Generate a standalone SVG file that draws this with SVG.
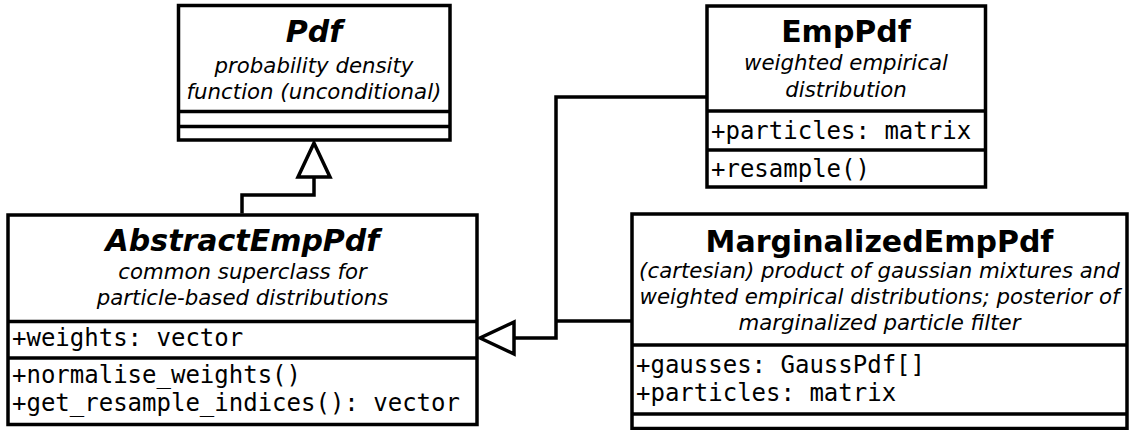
<svg xmlns="http://www.w3.org/2000/svg" width="1131" height="430" viewBox="0 0 1131 430">
<defs>
<marker id="inherit" markerUnits="userSpaceOnUse" markerWidth="40" markerHeight="40" viewBox="0 0 40 40" refX="37" refY="20" orient="auto" overflow="visible">
<path d="M37,20 L3,4 L3,36 Z" fill="#fff" stroke="#000" stroke-width="3.5" stroke-linejoin="miter"/>
</marker>
</defs>
<style>
.box{fill:#fff;stroke:#000;stroke-width:3.5}
.sep{stroke:#000;stroke-width:3.5}
.name{font-family:"DejaVu Sans",sans-serif;font-weight:bold;font-size:30px;text-anchor:middle;fill:#000}
.abs{font-style:italic}
.desc{font-family:"DejaVu Sans",sans-serif;font-style:italic;font-size:21.3px;text-anchor:middle;fill:#000}
.mem{font-family:"DejaVu Sans Mono",monospace;font-size:24px;fill:#000}
.conn{fill:none;stroke:#000;stroke-width:3.5}
</style>
<g id="connectors">
<path class="conn" d="M242,213.5 V195 H314 V143" marker-end="url(#inherit)"/>
<path class="conn" d="M707,97 H556 V338 H480" marker-end="url(#inherit)"/>
<path class="conn" d="M632,321 H556"/>
</g>
<g id="Pdf">
<rect class="box" x="178.5" y="5.5" width="271.5" height="134.5"/>
<line class="sep" x1="178.5" y1="111.5" x2="450" y2="111.5"/>
<line class="sep" x1="178.5" y1="126.5" x2="450" y2="126.5"/>
<text class="name abs" x="314" y="42">Pdf</text>
<text class="desc" x="314" y="73">probability density</text>
<text class="desc" x="314" y="99">function (unconditional)</text>
</g>
<g id="EmpPdf">
<rect class="box" x="707" y="6" width="278.5" height="181"/>
<line class="sep" x1="707" y1="111" x2="985.5" y2="111"/>
<line class="sep" x1="707" y1="150" x2="985.5" y2="150"/>
<text class="name" x="846" y="42">EmpPdf</text>
<text class="desc" x="846" y="70">weighted empirical</text>
<text class="desc" x="846" y="97">distribution</text>
<text class="mem" x="711" y="139">+particles: matrix</text>
<text class="mem" x="711" y="177">+resample()</text>
</g>
<g id="AbstractEmpPdf">
<rect class="box" x="8" y="215" width="469" height="209.5"/>
<line class="sep" x1="8" y1="321.5" x2="477" y2="321.5"/>
<line class="sep" x1="8" y1="358" x2="477" y2="358"/>
<text class="name abs" x="242.5" y="251">AbstractEmpPdf</text>
<text class="desc" x="242.5" y="279">common superclass for</text>
<text class="desc" x="242.5" y="305">particle-based distributions</text>
<text class="mem" x="12" y="346">+weights: vector</text>
<text class="mem" x="12" y="383">+normalise_weights()</text>
<text class="mem" x="12" y="411">+get_resample_indices(): vector</text>
</g>
<g id="MarginalizedEmpPdf">
<rect class="box" x="632" y="214" width="495" height="214.5"/>
<line class="sep" x1="632" y1="345" x2="1127" y2="345"/>
<line class="sep" x1="632" y1="414" x2="1127" y2="414"/>
<text class="name" x="879.5" y="252">MarginalizedEmpPdf</text>
<text class="desc" x="879.5" y="278">(cartesian) product of gaussian mixtures and</text>
<text class="desc" x="879.5" y="304">weighted empirical distributions; posterior of</text>
<text class="desc" x="879.5" y="330">marginalized particle filter</text>
<text class="mem" x="636" y="373">+gausses: GaussPdf[]</text>
<text class="mem" x="636" y="401">+particles: matrix</text>
</g>
</svg>
